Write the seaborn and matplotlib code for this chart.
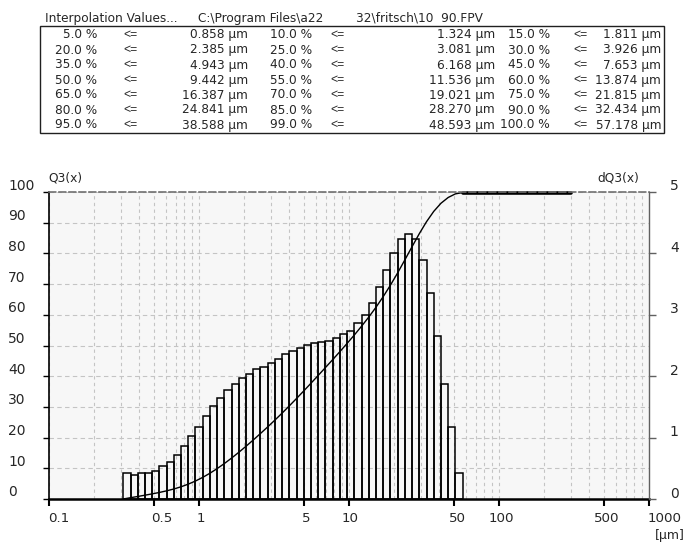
import numpy as np
import pandas as pd
import matplotlib
matplotlib.use("Agg")
import matplotlib.pyplot as plt
import seaborn as sns
from matplotlib.transforms import ScaledTranslation

# ---------------- data ----------------
size_class_edges_um = [
    0.3128, 0.3495, 0.3904, 0.4362, 0.4873, 0.5444, 0.6082, 0.6795, 0.7591, 0.8481,
    0.9475, 1.0585, 1.1826, 1.3212, 1.4760, 1.6490, 1.8423, 2.0581, 2.2994, 2.5689,
    2.8699, 3.2062, 3.5820, 4.0018, 4.4708, 4.9947, 5.5801, 6.2341, 6.9647, 7.7809,
    8.6929, 9.7117, 10.850, 12.121, 13.542, 15.129, 16.902, 18.883, 21.096, 23.569,
    26.331, 29.417, 32.865, 36.716, 41.019, 45.827, 51.198, 57.199]
dq3_percent = [
    0.43, 0.39, 0.42, 0.43, 0.46, 0.53, 0.60, 0.72, 0.86, 1.02,
    1.18, 1.35, 1.51, 1.65, 1.78, 1.88, 1.97, 2.04, 2.11, 2.15,
    2.22, 2.28, 2.36, 2.41, 2.46, 2.51, 2.54, 2.55, 2.57, 2.62,
    2.68, 2.73, 2.86, 2.99, 3.19, 3.46, 3.73, 4.01, 4.23, 4.31,
    4.23, 3.90, 3.36, 2.65, 1.88, 1.18, 0.42]
measuring_range_end_um = 300

x_tick_values = [0.1, 0.5, 1, 5, 10, 50, 100, 500, 1000]
x_tick_labels = ["0.1", "0.5", "1", "5", "10", "50", "100", "500", "1000"]
q3_ticks = [0, 10, 20, 30, 40, 50, 60, 70, 80, 90, 100]
dq3_ticks = [0, 1, 2, 3, 4, 5]

interp_percent = [5.0, 10.0, 15.0, 20.0, 25.0, 30.0, 35.0, 40.0, 45.0, 50.0, 55.0,
                  60.0, 65.0, 70.0, 75.0, 80.0, 85.0, 90.0, 95.0, 99.0, 100.0]
interp_size_um = [0.858, 1.324, 1.811, 2.385, 3.081, 3.926, 4.943, 6.168, 7.653,
                  9.442, 11.536, 13.874, 16.387, 19.021, 21.815, 24.841, 28.270,
                  32.434, 38.588, 48.593, 57.178]
header_texts = ["Interpolation Values...", "C:\\Program Files\\a22", "32\\fritsch\\10  90.FPV"]

# ---------------- style ----------------
sns.set_style("white")
plt.rcParams["font.family"] = ["DejaVu Sans"]

W, H = 690, 543
fig = plt.figure(figsize=(W / 100, H / 100), dpi=100)
fig.patch.set_facecolor("white")


def fx(x):
    return x / W


def fy(y):
    return 1 - y / H


def shift(lbl, dx_px, dy_px):
    lbl.set_transform(lbl.get_transform() +
                      ScaledTranslation(dx_px / 100, dy_px / 100, fig.dpi_scale_trans))


L, R, T, B = 49, 649, 192, 499
ax = fig.add_axes([fx(L), fy(B), (R - L) / W, (B - T) / H])
ax.set_facecolor("#f7f7f7")
ax2 = ax.twinx()

# ---------------- bars (dQ3) ----------------
log_edges = np.log10(size_class_edges_um)
centers = (log_edges[:-1] + log_edges[1:]) / 2
df_bars = pd.DataFrame({"log_x": centers, "dq3": dq3_percent})
sns.histplot(data=df_bars, x="log_x", weights="dq3", bins=[float(e) for e in log_edges],
             stat="count", element="bars", fill=False, color="black",
             linewidth=1.1, ax=ax2)

# ---------------- cumulative curve (Q3) ----------------
cum = np.cumsum(dq3_percent)
q3 = np.concatenate([[0.0], cum])
df_curve = pd.DataFrame({"log_x": log_edges, "q3": q3})
sns.lineplot(data=df_curve, x="log_x", y="q3", sort=False, estimator=None,
             color="black", linewidth=1.0, ax=ax)
df_plateau = pd.DataFrame({"log_x": [log_edges[-1], np.log10(measuring_range_end_um)],
                           "q3": [cum[-1], cum[-1]]})
sns.lineplot(data=df_plateau, x="log_x", y="q3", sort=False, estimator=None,
             color="black", linewidth=2.6, ax=ax)
for ln in ax.lines:
    ln.set_clip_on(False)

# ---------------- axes ----------------
ax.set_xlim(-1, 3)
ax.set_ylim(0, 100)
ax2.set_ylim(0, 5)

grid_x = [np.log10(k * 10.0 ** d) for d in range(-1, 3) for k in range(1, 10)][1:]
ax.set_xticks(np.log10(x_tick_values))
ax.set_xticklabels(x_tick_labels)
ax.set_xticks(grid_x, minor=True)
ax.set_yticks(q3_ticks)
ax.set_yticklabels([str(v) for v in q3_ticks])
ax2.set_yticks(dq3_ticks)
ax2.set_yticklabels([str(v) for v in dq3_ticks])

ax.grid(True, which="both", axis="x", linestyle=(0, (3, 3)), color="#c4c4c4", linewidth=0.8)
ax.grid(True, which="major", axis="y", linestyle=(0, (4, 3)), color="#c4c4c4", linewidth=0.8)
ax.set_axisbelow(True)
ax2.grid(False)

ax.set_xlabel("")
ax.set_ylabel("")
ax2.set_ylabel("")

ax.tick_params(axis="x", which="major", direction="out", length=5, width=1.5,
               color="black", pad=4, labelsize=9.6, bottom=True)
ax.tick_params(axis="x", which="minor", length=0)
ax.tick_params(axis="y", which="major", direction="out", length=4, width=1,
               color="black", pad=25.5, labelsize=10, left=True)
ax2.tick_params(axis="y", which="major", direction="out", length=5, width=1,
                color="#606060", pad=10, labelsize=10, right=True)

ax.spines["left"].set_color("black")
ax.spines["left"].set_linewidth(1.2)
ax.spines["bottom"].set_color("black")
ax.spines["bottom"].set_linewidth(1.8)
ax.spines["top"].set_color("#707070")
ax.spines["top"].set_linestyle((0, (4, 2)))
ax.spines["top"].set_linewidth(1.2)
ax.spines["right"].set_visible(False)
for sp in ["left", "top", "bottom"]:
    ax2.spines[sp].set_visible(False)
ax2.spines["right"].set_color("#606060")
ax2.spines["right"].set_linewidth(1.0)

x_label_dx = {"0.1": 10, "0.5": 8, "1": 2, "5": 2, "10": 1, "50": 4, "100": 2, "500": 3, "1000": 16}
for lbl in ax.get_xticklabels():
    shift(lbl, x_label_dx.get(lbl.get_text(), 2), 0)
for lbl in ax.get_yticklabels():
    lbl.set_horizontalalignment("left")
    shift(lbl, 0, 8)
for lbl in ax2.get_yticklabels():
    shift(lbl, 0, 7)

fig.text(fx(48), fy(178), "Q3(x)", ha="left", va="center", fontsize=8.8)
fig.text(fx(597), fy(178), "dQ3(x)", ha="left", va="center", fontsize=8.8)
fig.text(fx(685), fy(535), "[µm]", ha="right", va="center", fontsize=9)

# ---------------- interpolation table ----------------
TFS = 8.7
fig.text(fx(45), fy(18.3), header_texts[0], ha="left", va="center", fontsize=TFS)
fig.text(fx(198), fy(18.3), header_texts[1], ha="left", va="center", fontsize=TFS)
fig.text(fx(356), fy(18.3), header_texts[2], ha="left", va="center", fontsize=TFS)

box = plt.Rectangle((fx(40), fy(133)), fx(663.5) - fx(40), fy(25.7) - fy(133),
                    transform=fig.transFigure, fill=False, edgecolor="#202020",
                    linewidth=1.0)
fig.add_artist(box)

pct_right = [97, 312, 550]
le_left = [123, 330, 573]
val_right = [248, 495, 661]
row_y = [35, 50, 65, 80, 95, 110, 125]
for i, (p, v) in enumerate(zip(interp_percent, interp_size_um)):
    r, c = divmod(i, 3)
    y = fy(row_y[r])
    fig.text(fx(pct_right[c]), y, f"{p:.1f} %", ha="right", va="center", fontsize=TFS)
    fig.text(fx(le_left[c]), y, "<=", ha="left", va="center", fontsize=TFS,
             family=["Liberation Sans", "DejaVu Sans"])
    fig.text(fx(val_right[c]), y, f"{v:.3f} µm", ha="right", va="center", fontsize=TFS)

fig.savefig("out.png", dpi=100)
